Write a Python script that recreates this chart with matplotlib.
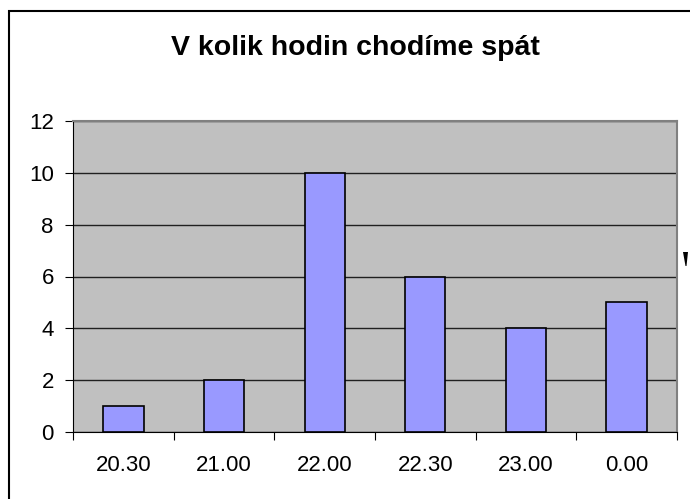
import matplotlib.pyplot as plt
from matplotlib.patches import Rectangle, Polygon

categories = ["20.30", "21.00", "22.00", "22.30", "23.00", "0.00"]
counts = [1, 2, 10, 6, 4, 5]
y_ticks = [0, 2, 4, 6, 8, 10, 12]

plt.rcParams['font.family'] = ['Liberation Sans', 'DejaVu Sans']

W, H = 690, 499
fig = plt.figure(figsize=(6.9, 4.99), dpi=100)
fig.patch.set_facecolor('white')

# outer chart border (clipped at right/bottom like the original)
fig.patches.append(Rectangle((8.5 / W, -0.05), 1.2, (H - 10.5) / H + 0.05,
                             transform=fig.transFigure, fill=False,
                             edgecolor='black', linewidth=1.5))

# clipped stray legend glyph on the right edge
stub = [(683, 252), (688, 252), (686.5, 266), (685.5, 266)]
fig.patches.append(Polygon([(px / W, 1 - py / H) for px, py in stub],
                           closed=True, transform=fig.transFigure,
                           facecolor='black', edgecolor='none'))

ax = fig.add_axes([73.3 / W, (H - 432.3) / H,
                   (676.7 - 73.3) / W, (432.3 - 120.7) / H])
ax.set_facecolor('#C0C0C0')

x = list(range(len(categories)))
ax.bar(x, counts, width=0.4, color='#9999FF', edgecolor='black', linewidth=1.2, zorder=3)

ax.set_xlim(-0.5, len(categories) - 0.5)
ax.set_ylim(0, 12)
ax.set_yticks(y_ticks)
ax.set_yticklabels([str(t) for t in y_ticks], fontsize=16)
ax.yaxis.grid(True, color='#202020', linewidth=1.0, zorder=1)
ax.set_axisbelow(True)

# category labels at centres, tick marks at boundaries
ax.set_xticks([i - 0.5 for i in range(len(categories) + 1)])
ax.set_xticklabels([])
ax.set_xticks(x, minor=True)
ax.set_xticklabels(categories, minor=True, fontsize=16)
ax.tick_params(axis='x', which='minor', length=0, pad=16)
ax.tick_params(axis='x', which='major', length=6, direction='out', color='black')
ax.tick_params(axis='y', length=6, direction='out', color='black', pad=8)

for side in ['top', 'right']:
    ax.spines[side].set_color('#808080')
    ax.spines[side].set_linewidth(1.5)
ax.spines['left'].set_color('black')
ax.spines['bottom'].set_color('black')

fig.text(355 / W, 1 - 55 / H, "V kolik hodin chodíme spát",
         ha='center', va='baseline', fontsize=20.5, fontweight='bold')

fig.savefig('out.png', dpi=100)
